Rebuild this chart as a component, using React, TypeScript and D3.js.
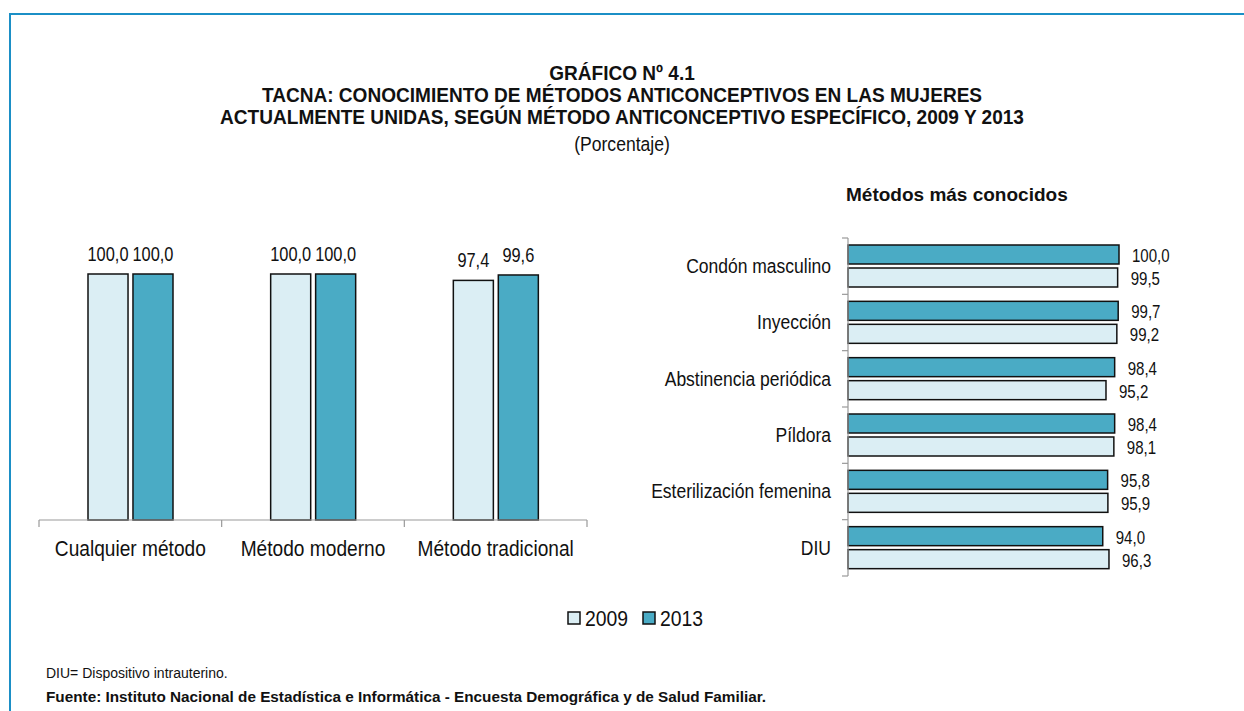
import React from 'react'
import * as d3 from 'd3'

const width = 1244
const height = 711

const years = ['2009', '2013']
const leftCategories = ['Cualquier método', 'Método moderno', 'Método tradicional']
const left2009 = [100.0, 100.0, 97.4]
const left2013 = [100.0, 100.0, 99.6]

const methods = ['Condón masculino', 'Inyección', 'Abstinencia periódica', 'Píldora', 'Esterilización femenina', 'DIU']
const methods2013 = [100.0, 99.7, 98.4, 98.4, 95.8, 94.0]
const methods2009 = [99.5, 99.2, 95.2, 98.1, 95.9, 96.3]

const titleLines = [
  'GRÁFICO Nº 4.1',
  'TACNA: CONOCIMIENTO DE MÉTODOS ANTICONCEPTIVOS EN LAS MUJERES',
  'ACTUALMENTE UNIDAS, SEGÚN MÉTODO ANTICONCEPTIVO ESPECÍFICO, 2009 Y 2013',
]

const colors: Record<string, string> = { '2009': '#dbeef4', '2013': '#4aabc5' }
const font = '"Liberation Sans", Arial, sans-serif'
const fmt = (v: number) => d3.format('.1f')(v).replace('.', ',')

// text squeezed horizontally, the reference uses a narrow face
function T({ x, y, sx = 0.87, children, ...rest }: any) {
  return (
    <text transform={`translate(${x},${y}) scale(${sx},1)`} fill="#111" {...rest}>{children}</text>
  )
}

function App() {
  // left chart: vertical bars
  const x0 = d3.scaleBand().domain(leftCategories).range([39, 587])
  const x1 = d3.scaleBand().domain(years).range([49, 134]).paddingInner(0.11)
  const yL = d3.scaleLinear().domain([0, 100]).range([520, 274])
  const leftVals: Record<string, number[]> = { '2009': left2009, '2013': left2013 }

  // right chart: horizontal bars
  const y0 = d3.scaleBand().domain(methods).range([238, 576])
  const y1 = d3.scaleBand().domain(['2013', '2009']).range([7, 49]).paddingInner(0.174)
  const xR = d3.scaleLinear().domain([0, 100]).range([848, 1119])
  const rightVals: Record<string, number[]> = { '2009': methods2009, '2013': methods2013 }

  const leftTicks = [...leftCategories.map(c => x0(c)!), 587]
  const rightTicks = [...methods.map(m => y0(m)!), 576]

  return (
    <svg width={width} height={height} style={{ position: 'absolute', left: 0, top: 0, background: '#fff' }} fontFamily={font}>
      {/* frame */}
      <line x1={10} x2={width} y1={14} y2={14} stroke="#1b8fc6" strokeWidth={2} />
      <line x1={10} x2={10} y1={13} y2={height} stroke="#1b8fc6" strokeWidth={2} />

      {/* title */}
      {titleLines.map((t, i) => (
        <T key={t} x={622} y={80 + i * 22} sx={0.93} textAnchor="middle" fontWeight="bold" fontSize={20.5}>{t}</T>
      ))}
      <T x={622} y={151} sx={0.9} textAnchor="middle" fontSize={19.5}>(Porcentaje)</T>

      {/* left bars */}
      {leftCategories.map((c, i) => (
        <g key={c} transform={`translate(${x0(c)},0)`}>
          {years.map(yr => {
            const v = leftVals[yr][i]
            return (
              <g key={yr}>
                <rect x={x1(yr)} y={yL(v)} width={x1.bandwidth()} height={yL(0) - yL(v)} fill={colors[yr]} stroke="#111" strokeWidth={1.5} />
                <T x={x1(yr)! + x1.bandwidth() / 2} y={yL(v) - 13} textAnchor="middle" fontSize={20} sx={0.82}>{fmt(v)}</T>
              </g>
            )
          })}
          <T x={x0.bandwidth() / 2} y={556} textAnchor="middle" fontSize={22}>{c}</T>
        </g>
      ))}
      <line x1={39} x2={587} y1={520} y2={520} stroke="#999" strokeWidth={1.2} />
      {leftTicks.map((t, i) => (
        <line key={i} x1={t} x2={t} y1={520} y2={527} stroke="#999" strokeWidth={1.2} />
      ))}

      {/* right bars */}
      <T x={846} y={201} sx={1} fontWeight="bold" fontSize={19}>Métodos más conocidos</T>
      {methods.map((m, i) => (
        <g key={m} transform={`translate(0,${y0(m)})`}>
          {['2013', '2009'].map(yr => {
            const v = rightVals[yr][i]
            return (
              <g key={yr}>
                <rect x={xR(0)} y={y1(yr)} width={xR(v) - xR(0)} height={y1.bandwidth()} fill={colors[yr]} stroke="#111" strokeWidth={1.5} />
                <T x={xR(v) + 13} y={y1(yr)! + y1.bandwidth() / 2 + 1} dominantBaseline="central" fontSize={17.5} sx={0.86}>{fmt(v)}</T>
              </g>
            )
          })}
          <T x={831} y={y0.bandwidth() / 2} dominantBaseline="central" textAnchor="end" fontSize={20} sx={0.875}>{m}</T>
        </g>
      ))}
      <line x1={848} x2={848} y1={238} y2={576} stroke="#999" strokeWidth={1.2} />
      {rightTicks.map((t, i) => (
        <line key={i} x1={842} x2={848} y1={t} y2={t} stroke="#999" strokeWidth={1.2} />
      ))}

      {/* legend */}
      {years.map((yr, i) => (
        <g key={yr} transform={`translate(${568 + i * 75},612)`}>
          <rect x={0} y={0} width={12} height={12} fill={colors[yr]} stroke="#111" strokeWidth={1.5} />
          <T x={17} y={14} fontSize={22} sx={0.88}>{yr}</T>
        </g>
      ))}

      {/* footnotes */}
      <T x={46} y={678} sx={1} fontSize={14}>DIU= Dispositivo intrauterino.</T>
      <T x={46} y={702} sx={1} fontSize={15.3} fontWeight="bold">Fuente: Instituto Nacional de Estadística e Informática - Encuesta Demográfica y de Salud Familiar.</T>
    </svg>
  )
}

export default App
